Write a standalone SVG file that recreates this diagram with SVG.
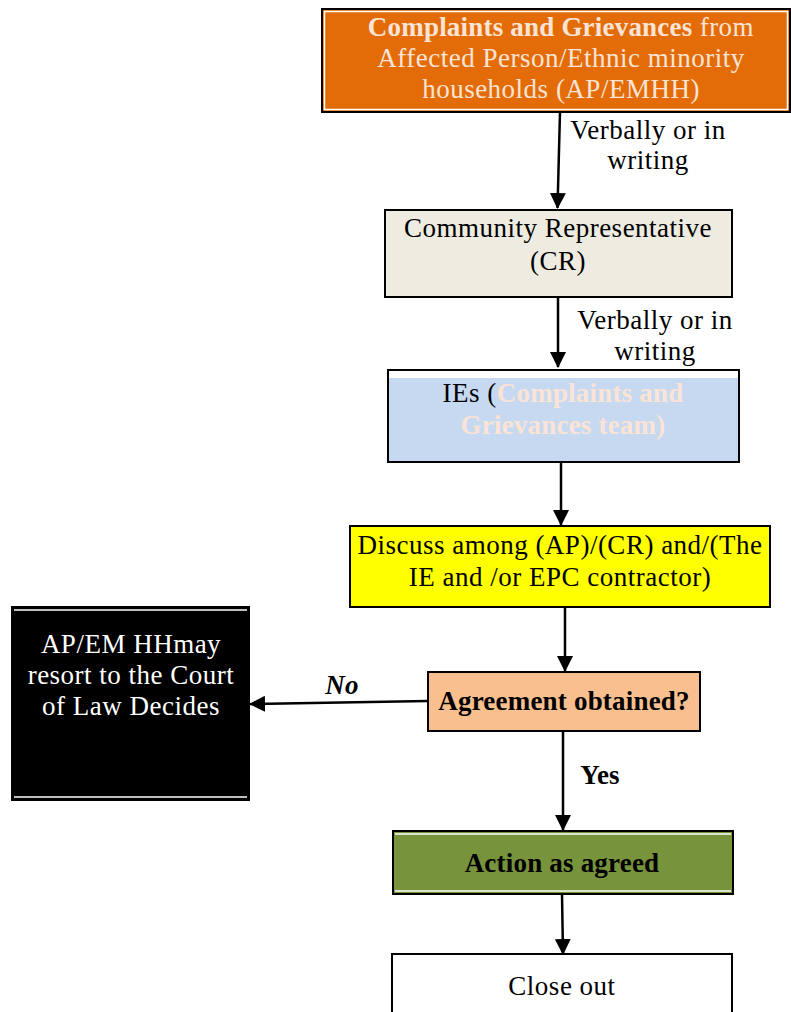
<svg xmlns="http://www.w3.org/2000/svg" width="791" height="1012" viewBox="0 0 791 1012">
<style>
text{font-family:"Liberation Serif","Times New Roman",serif;font-size:27px;letter-spacing:0.5px;text-anchor:middle}
.b{font-weight:bold;letter-spacing:0.2px}
.pk{fill:#FBE4D5}
.box{stroke:#000;stroke-width:2}
.wl{stroke:#fff;stroke-width:1.5;fill:none}
.c{stroke:#000;stroke-width:2.5;fill:none}
</style>
<defs>
<marker id="ah2" markerWidth="16" markerHeight="16" refX="15" refY="8" orient="auto" markerUnits="userSpaceOnUse" viewBox="0 0 16 16">
<path d="M0,0 L16,8 L0,16 z" fill="#000"/>
</marker>
</defs>
<rect width="791" height="1012" fill="#fff"/>
<g id="connectors">
<line class="c" x1="560" y1="112" x2="557.5" y2="208" marker-end="url(#ah2)"/>
<line class="c" x1="558" y1="297" x2="558" y2="367" marker-end="url(#ah2)"/>
<line class="c" x1="561" y1="462" x2="561" y2="525" marker-end="url(#ah2)"/>
<line class="c" x1="565" y1="607" x2="565" y2="671" marker-end="url(#ah2)"/>
<line class="c" x1="428" y1="701" x2="250" y2="704" marker-end="url(#ah2)"/>
<line class="c" x1="563" y1="731" x2="563" y2="830" marker-end="url(#ah2)"/>
<line class="c" x1="562" y1="894" x2="563" y2="954" marker-end="url(#ah2)"/>
<text x="648" y="139">Verbally or in</text>
<text x="648" y="169">writing</text>
<text x="655" y="329">Verbally or in</text>
<text x="655" y="360">writing</text>
<text x="342" y="694" class="b" font-style="italic">No</text>
<text x="600" y="784" class="b">Yes</text>
</g>
<g id="n1">
<rect class="box" x="322" y="9" width="468" height="103" fill="#E36C09"/>
<rect class="wl" x="324.5" y="11.5" width="463" height="98"/>
<text x="561" y="36" class="pk"><tspan class="b">Complaints and Grievances</tspan> from</text>
<text x="561" y="67" class="pk">Affected Person/Ethnic minority</text>
<text x="561" y="98" class="pk">households (AP/EMHH)</text>
</g>
<g id="n2">
<rect class="box" x="385" y="210" width="347" height="87" fill="#EEECE1"/>
<text x="558" y="237">Community Representative</text>
<text x="558" y="270">(CR)</text>
</g>
<g id="n3">
<rect class="box" x="388" y="370" width="351" height="92" fill="#C6D9F1"/>
<rect x="389" y="371" width="349" height="7" fill="#fff"/>
<text x="563" y="402">IEs (<tspan class="b pk">Complaints and</tspan></text>
<text x="563" y="434" class="b pk">Grievances team)</text>
</g>
<g id="n4">
<rect class="box" x="350" y="526" width="420" height="81" fill="#FFFF00"/>
<text x="560" y="554">Discuss among (AP)/(CR) and/(The</text>
<text x="560" y="586">IE and /or EPC contractor)</text>
</g>
<g id="n5">
<rect class="box" x="428" y="672" width="272" height="59" fill="#FABF8F"/>
<text x="564" y="710" class="b">Agreement obtained?</text>
</g>
<g id="n6">
<rect class="box" x="12" y="607" width="237" height="193" fill="#000"/>
<line class="wl" x1="14" y1="610" x2="247" y2="610"/>
<line class="wl" x1="14" y1="797" x2="247" y2="797"/>
<text x="131" y="653" fill="#fff">AP/EM HHmay</text>
<text x="131" y="684" fill="#fff">resort to the Court</text>
<text x="131" y="715" fill="#fff">of Law Decides</text>
</g>
<g id="n7">
<rect class="box" x="393" y="831" width="340" height="63" fill="#77933C"/>
<line class="wl" x1="395" y1="834" x2="731" y2="834"/>
<line class="wl" x1="395" y1="891" x2="731" y2="891"/>
<text x="562" y="872" class="b">Action as agreed</text>
</g>
<g id="n8">
<rect class="box" x="392" y="954" width="340" height="70" fill="#fff"/>
<text x="562" y="995">Close out</text>
</g>
</svg>
